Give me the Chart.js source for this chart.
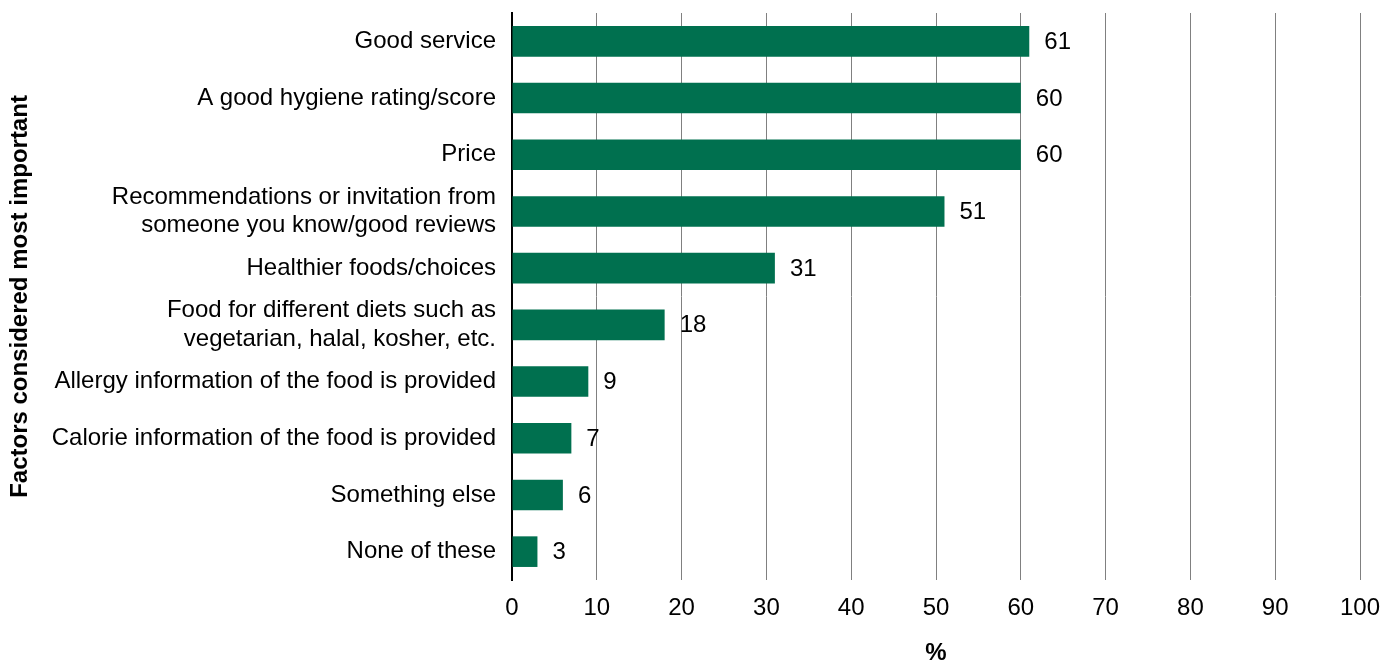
<!DOCTYPE html>
<html>
<head>
<meta charset="utf-8">
<script src="https://cdn.jsdelivr.net/npm/chart.js@4"></script>
<style>
  html, body { margin: 0; padding: 0; background: #fff; }
  #wrap { width: 1396px; height: 663px; position: relative; }
</style>
</head>
<body>
<div id="wrap"><canvas id="chart"></canvas></div>
<script>
// chart data
const categories = [
  "Good service",
  "A good hygiene rating/score",
  "Price",
  ["Recommendations or invitation from", "someone you know/good reviews"],
  "Healthier foods/choices",
  ["Food for different diets such as", "vegetarian, halal, kosher, etc."],
  "Allergy information of the food is provided",
  "Calorie information of the food is provided",
  "Something else",
  "None of these"
];
const values = [61, 60, 60, 51, 31, 18, 9, 7, 6, 3];
const xTitle = "%";
const yTitle = "Factors considered most important";

const FONT = "'Liberation Sans', Arial, sans-serif";
Chart.defaults.font.family = FONT;
Chart.defaults.font.size = 24;
Chart.defaults.color = "#000";

// value labels at end of each bar
const valueLabels = {
  id: "valueLabels",
  afterDatasetsDraw(chart) {
    const ctx = chart.ctx;
    const meta = chart.getDatasetMeta(0);
    ctx.save();
    ctx.font = "24px " + FONT;
    ctx.fillStyle = "#000";
    ctx.textAlign = "left";
    ctx.textBaseline = "middle";
    meta.data.forEach((bar, i) => {
      ctx.fillText(String(values[i]), bar.x + 15, bar.y + 1);
    });
    ctx.restore();
  }
};

new Chart(document.getElementById("chart"), {
  type: "bar",
  data: {
    labels: categories,
    datasets: [{
      data: values,
      backgroundColor: "#00704f",
      barPercentage: 0.54,
      categoryPercentage: 1
    }]
  },
  options: {
    indexAxis: "y",
    responsive: true,
    maintainAspectRatio: false,
    animation: false,
    layout: { padding: { left: 0, right: 36, top: 0, bottom: 0 } },
    plugins: {
      legend: { display: false },
      tooltip: { enabled: false }
    },
    scales: {
      x: {
        min: 0,
        max: 100,
        ticks: { stepSize: 10, padding: 14, color: "#000", font: { size: 24 } },
        grid: { color: "#808080", lineWidth: 1, drawTicks: false },
        border: { display: false },
        title: {
          display: true,
          text: xTitle,
          font: { size: 24, weight: "bold" },
          color: "#000",
          padding: { top: 0, bottom: -5 }
        },
        afterFit(scale) { scale.height = 83; }
      },
      y: {
        ticks: { padding: 16, autoSkip: false, color: "#000", font: { size: 24 } },
        grid: { display: false, drawTicks: false },
        border: { display: true, color: "#000", width: 2 },
        title: {
          display: true,
          text: yTitle,
          font: { size: 24, weight: "bold" },
          color: "#000",
          padding: { top: 6, bottom: 0 }
        },
        afterFit(scale) {
          scale.width = 512;
          scale.paddingTop = 13;
          scale.paddingBottom = 0;
        }
      }
    }
  },
  plugins: [valueLabels]
});
</script>
</body>
</html>
